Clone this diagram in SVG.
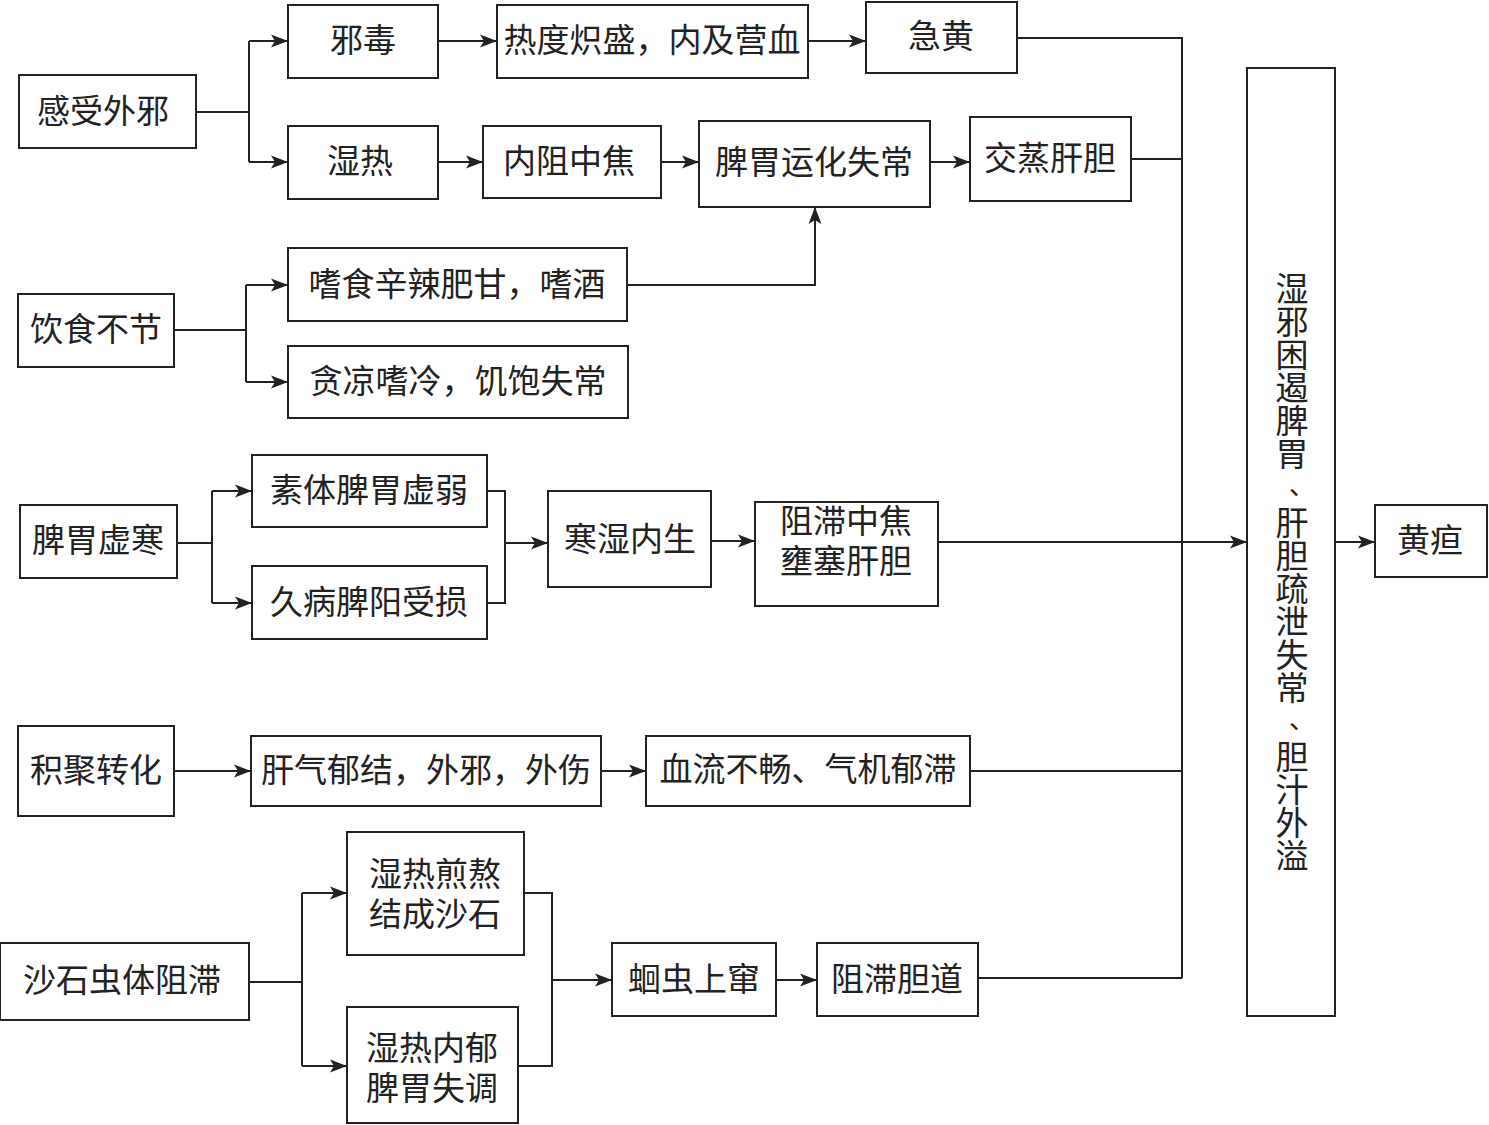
<svg xmlns="http://www.w3.org/2000/svg" width="1489" height="1125" viewBox="0 0 1489 1125">
<style>
.b{fill:#fff;stroke:#222;stroke-width:2}
.t{font-family:"Liberation Serif","Noto Sans CJK SC",serif;font-size:33px;fill:#222;text-anchor:middle;dominant-baseline:central}
.p{font-size:26px}
.c{fill:none;stroke:#222;stroke-width:2}
.a{marker-end:url(#ar)}
</style>
<defs>
<marker id="ar" markerUnits="userSpaceOnUse" markerWidth="18" markerHeight="14" refX="17" refY="7" orient="auto">
<path d="M0,0.5 L17,7 L0,13.5 L4,7 z" fill="#222"/>
</marker>
</defs>
<rect width="1489" height="1125" fill="#fff"/>
<g id="connectors">
<path class="c" d="M196,112 H249 M249,41 V162"/>
<path class="c a" d="M249,41 H288"/>
<path class="c a" d="M249,162 H288"/>
<path class="c a" d="M438,41 H497"/>
<path class="c a" d="M808,41 H866"/>
<path class="c a" d="M438,162 H483"/>
<path class="c a" d="M661,162 H699"/>
<path class="c a" d="M930,162 H970"/>
<path class="c a" d="M627,285 H815 V207"/>
<path class="c" d="M174,330 H246 M246,285 V382"/>
<path class="c a" d="M246,285 H288"/>
<path class="c a" d="M246,382 H288"/>
<path class="c" d="M177,543 H212 M212,491 V603"/>
<path class="c a" d="M212,491 H252"/>
<path class="c a" d="M212,603 H252"/>
<path class="c" d="M487,491 H505 V603 H487"/>
<path class="c a" d="M505,543 H548"/>
<path class="c a" d="M711,541 H755"/>
<path class="c a" d="M938,542 H1247"/>
<path class="c a" d="M174,771 H251"/>
<path class="c a" d="M601,771 H646"/>
<path class="c" d="M970,771 H1182"/>
<path class="c" d="M249,982 H302 M302,893 V1066"/>
<path class="c a" d="M302,893 H347"/>
<path class="c a" d="M302,1066 H347"/>
<path class="c" d="M524,893 H552 V1066 H518"/>
<path class="c a" d="M552,980 H612"/>
<path class="c a" d="M776,980 H817"/>
<path class="c" d="M978,978 H1182"/>
<path class="c" d="M1017,38 H1182 V978"/>
<path class="c" d="M1131,159 H1182"/>
<path class="c a" d="M1335,542 H1375"/>
</g>
<g id="n1"><rect class="b" x="19" y="75" width="177" height="73"/><text class="t" x="103" y="112">感受外邪</text></g>
<g id="n2"><rect class="b" x="288" y="5" width="150" height="73"/><text class="t" x="363" y="41">邪毒</text></g>
<g id="n3"><rect class="b" x="497" y="5" width="311" height="73"/><text class="t" x="652" y="41">热度炽盛，内及营血</text></g>
<g id="n4"><rect class="b" x="866" y="2" width="151" height="71"/><text class="t" x="941" y="37">急黄</text></g>
<g id="n5"><rect class="b" x="288" y="126" width="150" height="73"/><text class="t" x="360" y="162">湿热</text></g>
<g id="n6"><rect class="b" x="483" y="126" width="178" height="72"/><text class="t" x="569" y="162">内阻中焦</text></g>
<g id="n7"><rect class="b" x="699" y="121" width="231" height="86"/><text class="t" x="814" y="163">脾胃运化失常</text></g>
<g id="n8"><rect class="b" x="970" y="117" width="161" height="84"/><text class="t" x="1050" y="159">交蒸肝胆</text></g>
<g id="n9"><rect class="b" x="18" y="294" width="156" height="73"/><text class="t" x="96" y="330">饮食不节</text></g>
<g id="n10"><rect class="b" x="288" y="248" width="339" height="73"/><text class="t" x="457" y="285">嗜食辛辣肥甘，嗜酒</text></g>
<g id="n11"><rect class="b" x="288" y="346" width="340" height="72"/><text class="t" x="458" y="382">贪凉嗜冷，饥饱失常</text></g>
<g id="n12"><rect class="b" x="20" y="505" width="157" height="73"/><text class="t" x="98" y="541">脾胃虚寒</text></g>
<g id="n13"><rect class="b" x="252" y="455" width="235" height="72"/><text class="t" x="369" y="491">素体脾胃虚弱</text></g>
<g id="n14"><rect class="b" x="252" y="566" width="235" height="73"/><text class="t" x="369" y="603">久病脾阳受损</text></g>
<g id="n15"><rect class="b" x="548" y="491" width="163" height="96"/><text class="t" x="630" y="540">寒湿内生</text></g>
<g id="n16"><rect class="b" x="755" y="502" width="183" height="104"/><text class="t" x="846" y="522">阻滞中焦</text><text class="t" x="846" y="562">壅塞肝胆</text></g>
<g id="n17"><rect class="b" x="18" y="726" width="156" height="90"/><text class="t" x="96" y="771">积聚转化</text></g>
<g id="n18"><rect class="b" x="251" y="736" width="350" height="70"/><text class="t" x="426" y="771">肝气郁结，外邪，外伤</text></g>
<g id="n19"><rect class="b" x="646" y="736" width="324" height="70"/><text class="t" x="808" y="770">血流不畅、气机郁滞</text></g>
<g id="n20"><rect class="b" x="347" y="832" width="177" height="123"/><text class="t" x="435" y="875">湿热煎熬</text><text class="t" x="435" y="915">结成沙石</text></g>
<g id="n21"><rect class="b" x="0" y="943" width="249" height="77"/><text class="t" x="122" y="981">沙石虫体阻滞</text></g>
<g id="n22"><rect class="b" x="347" y="1007" width="171" height="116"/><text class="t" x="432" y="1049">湿热内郁</text><text class="t" x="432" y="1089">脾胃失调</text></g>
<g id="n23"><rect class="b" x="612" y="943" width="164" height="73"/><text class="t" x="694" y="980">蛔虫上窜</text></g>
<g id="n24"><rect class="b" x="817" y="943" width="161" height="73"/><text class="t" x="897" y="980">阻滞胆道</text></g>
<g id="n25"><rect class="b" x="1247" y="68" width="88" height="948"/>
<text class="t"><tspan x="1292" y="290">湿</tspan><tspan x="1292" y="323">邪</tspan><tspan x="1292" y="356">困</tspan><tspan x="1292" y="389">遏</tspan><tspan x="1292" y="422">脾</tspan><tspan x="1292" y="455">胃</tspan><tspan class="p" x="1302" y="486">、</tspan><tspan x="1292" y="524">肝</tspan><tspan x="1292" y="557">胆</tspan><tspan x="1292" y="590">疏</tspan><tspan x="1292" y="623">泄</tspan><tspan x="1292" y="656">失</tspan><tspan x="1292" y="689">常</tspan><tspan class="p" x="1302" y="720">、</tspan><tspan x="1292" y="758">胆</tspan><tspan x="1292" y="791">汁</tspan><tspan x="1292" y="824">外</tspan><tspan x="1292" y="857">溢</tspan></text></g>
<g id="n26"><rect class="b" x="1375" y="505" width="112" height="72"/><text class="t" x="1430" y="541">黄疸</text></g>
</svg>
